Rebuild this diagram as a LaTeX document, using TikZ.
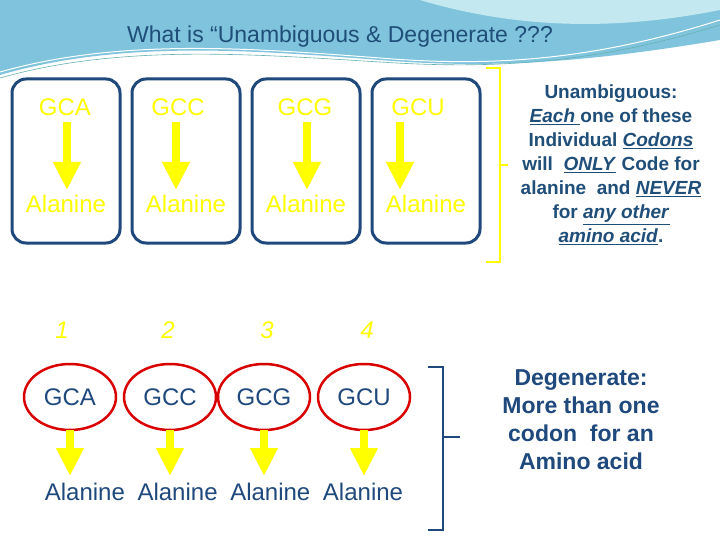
\documentclass[tikz,border=0pt]{standalone}
\usepackage{fontspec}
\setmainfont{Liberation Sans}
\usetikzlibrary{arrows.meta}
\definecolor{dblue}{HTML}{1F497D}
\definecolor{ttl}{HTML}{1F4E79}
\definecolor{ylw}{HTML}{FFFF00}
\definecolor{sky}{HTML}{7FC4DC}
\definecolor{skyl}{HTML}{C4E8F0}
\begin{document}
\begin{tikzpicture}[x=1pt,y=-1pt,
  box/.style={draw=dblue,line width=3pt,rounded corners=14pt},
  yt/.style={text=ylw,font=\fontsize{24}{26}\selectfont},
  bt/.style={text=dblue,font=\fontsize{24}{26}\selectfont},
  arr/.style={draw=ylw,line width=8pt,-{Triangle[width=26pt,length=28pt]}},
  brk/.style={line width=2.5pt}]
\useasboundingbox (0,0) rectangle (720,540);
\fill[white] (0,0) rectangle (720,540);
% background wave
\fill[sky] (0,0) -- (720,0) -- (720,40) .. controls (600,60) and (500,70) .. (380,60) .. controls (250,50) and (120,40) .. (0,75) -- cycle;
\fill[skyl] (420,0) .. controls (520,30) and (620,30) .. (720,10) -- (720,0) -- cycle;
\draw[white,line width=1pt] (0,72) .. controls (120,38) and (250,48) .. (380,58) .. controls (500,68) and (600,58) .. (720,20);
\draw[teal!60,line width=0.6pt] (0,78) .. controls (120,44) and (250,54) .. (380,62) .. controls (500,70) and (600,62) .. (720,25);
\node[text=ttl,font=\fontsize{23}{26}\selectfont] (title) at (340,37) {What is “Unambiguous \& Degenerate ???};
% top boxes
\foreach \i in {1,2,3,4}{
  \node[box,minimum width=108pt,minimum height=164pt] (b\i) at ({(\i-1)*120+66},161) {};
}
\foreach \i/\x/\c/\ax in {1/65/GCA/67,2/178/GCC/176,3/305/GCG/307,4/418/GCU/400}{
  \node[yt] (c\i) at (\x,107) {\c};
  \node[yt] (a\i) at ({(\i-1)*120+66},204) {Alanine};
  \draw[arr] (\ax,122) -- (\ax,190);
}
\draw[brk,draw=ylw] (486,68) -- (500,68) -- (500,262) -- (486,262);
\draw[brk,draw=ylw] (500,165) -- (508,165);
\node[text=ttl,font=\bfseries\fontsize{19}{24}\selectfont,align=center] (u) at (611,165)
 {Unambiguous:\\ \underline{\textit{Each} }one of these\\ Individual \underline{\textit{Codons}}\\ will \ \underline{\textit{ONLY}} Code for\\ alanine \ and \underline{\textit{NEVER}}\\ for \underline{\textit{any other}}\\ \underline{\textit{amino acid}}.};
% bottom
\foreach \i/\x/\n in {1/62/1,2/168/2,3/267/3,4/367/4}{
  \node[yt,font=\itshape\fontsize{24}{26}\selectfont] (n\i) at (\x,330) {\n};
}
\foreach \i/\x/\c in {1/70/GCA,2/170/GCC,3/264/GCG,4/364/GCU}{
  \draw[red!85!black,line width=2.5pt] (\x,397) ellipse (46pt and 33pt);
  \node[bt] (d\i) at (\x,397) {\c};
  \draw[arr] (\x,430) -- (\x,476);
}
\node[bt] (al) at (224,492) {Alanine\hspace{6pt} Alanine\hspace{6pt} Alanine\hspace{6pt} Alanine};
\draw[brk,draw=dblue] (428,367) -- (443,367) -- (443,530) -- (428,530);
\draw[brk,draw=dblue] (443,437) -- (460,437);
\node[text=dblue,font=\bfseries\fontsize{23}{28}\selectfont,align=center] (dg) at (581,420)
 {Degenerate:\\ More than one\\ codon \ for an\\ Amino acid};
\end{tikzpicture}
\end{document}
